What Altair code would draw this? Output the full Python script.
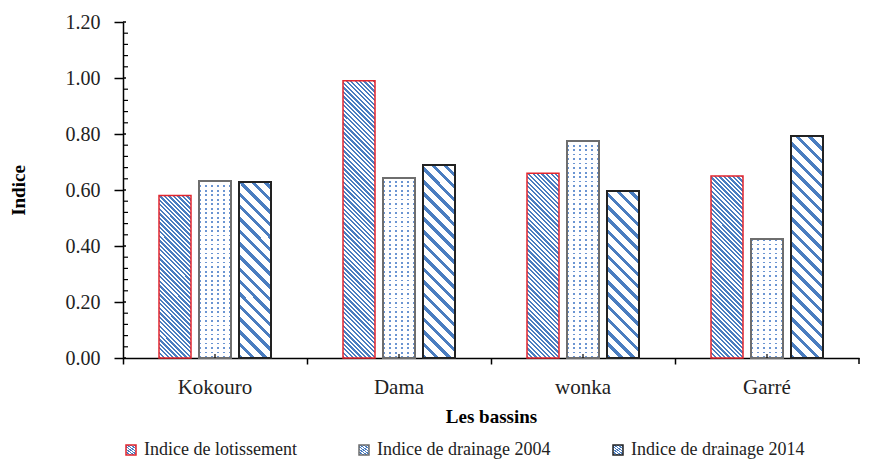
import altair as alt
import pandas as pd

basins = ["Kokouro", "Dama", "wonka", "Garré"]
series = ["Indice de lotissement", "Indice de drainage 2004", "Indice de drainage 2014"]
lotissement = [0.58, 0.99, 0.66, 0.65]
drainage_2004 = [0.632, 0.643, 0.775, 0.425]
drainage_2014 = [0.629, 0.689, 0.596, 0.793]
y_major = [0.0, 0.2, 0.4, 0.6, 0.8, 1.0, 1.2]
y_minor = [0.04, 0.08, 0.12, 0.16, 0.24, 0.28, 0.32, 0.36, 0.44, 0.48, 0.52, 0.56,
           0.64, 0.68, 0.72, 0.76, 0.84, 0.88, 0.92, 0.96, 1.04, 1.08, 1.12, 1.16]

rows = []
for i, b in enumerate(basins):
    for s, vals in zip(series, [lotissement, drainage_2004, drainage_2014]):
        rows.append({"basin": b, "series": s, "value": vals[i]})
df = pd.DataFrame(rows)

PLOT_W, PLOT_H, Y_MAX = 736, 336, 1.2
OFF_PAD_INNER, OFF_PAD_OUTER = 0.2, 0.9
step = PLOT_W / len(basins)
off_step = step / (len(series) - OFF_PAD_INNER + 2 * OFF_PAD_OUTER)
BAR_W = off_step * (1 - OFF_PAD_INNER)

BLUE = "#4a7dc0"
DOT = "#6b95d2"
WHITE = "#ffffff"
CLEAR = "rgba(255,255,255,0)"
FONT = "Liberation Serif"


def stripes(n, frac, on, off):
    stops = []
    i = 0
    while i < n:
        a = round(i / n, 5)
        b = round(min((i + frac) / n, 1.0), 5)
        c = round(min((i + 1) / n, 1.0), 5)
        stops += [{"offset": a, "color": on}, {"offset": b, "color": on},
                  {"offset": b, "color": off}, {"offset": c, "color": off}]
        i += 1
    return stops


def hatch(value, period, frac, color):
    w = BAR_W
    h = value / Y_MAX * PLOT_H
    k = (w + h) / (w * w + h * h)
    return {"gradient": "linear", "x1": 0, "y1": 1,
            "x2": round(k * w, 5), "y2": round(1 - k * h, 5),
            "stops": stripes((w + h) / period, frac, color, WHITE)}


def columns(period, frac):
    return {"gradient": "linear", "x1": 0, "y1": 0, "x2": 1, "y2": 0,
            "stops": stripes(BAR_W / period, frac, DOT, WHITE)}


def rows_mask(value, period, frac):
    h = value / Y_MAX * PLOT_H
    return {"gradient": "linear", "x1": 0, "y1": 1, "x2": 0, "y2": 0,
            "stops": stripes(h / period, frac, CLEAR, WHITE)}


y_scale = alt.Scale(domain=[0, Y_MAX], nice=False)
x_scale = alt.Scale(domain=basins, paddingInner=0, paddingOuter=0)

x_axis = alt.Axis(title="Les bassins", titleFont=FONT, titleFontSize=19, titleFontWeight="bold",
                  titleColor="#000", titlePadding=10, labelFont=FONT, labelFontSize=21,
                  labelColor="#222", labelAngle=0, labelPadding=12, tickSize=6, tickWidth=1.5,
                  tickColor="#000", bandPosition=0, domainColor="#000", domainWidth=1.5, grid=False)
y_axis = alt.Axis(values=y_major, format=".2f", title="Indice", titleFont=FONT, titleFontSize=19,
                  titleFontWeight="bold", titleColor="#000", titlePadding=37, labelFont=FONT,
                  labelFontSize=20, labelColor="#222", labelPadding=14, tickSize=9, tickWidth=1.5,
                  tickColor="#000", domainColor="#000", domainWidth=1.5, grid=False, orient="left")

legend = alt.Legend(title=None, orient="none", legendX=-1, legendY=419, direction="horizontal",
                    symbolType="square", symbolSize=100, symbolStrokeWidth=1.5,
                    labelFont=FONT, labelFontSize=18, labelColor="#222", labelLimit=500,
                    columnPadding=58, labelOffset=4, padding=0)

X = alt.X("basin:N", sort=basins, scale=x_scale, axis=x_axis)
Y = alt.Y("value:Q", scale=y_scale, axis=y_axis)

enc = dict(
    x=X,
    xOffset=alt.XOffset("series:N", sort=series,
                        scale=alt.Scale(domain=series, paddingInner=OFF_PAD_INNER,
                                        paddingOuter=OFF_PAD_OUTER)),
    y=Y,
    stroke=alt.Stroke("series:N", sort=series,
                      scale=alt.Scale(domain=series, range=["#e3262e", "#6e6e6e", "#222222"]),
                      legend=legend),
)

layers = []
for i, b in enumerate(basins):
    for j, s in enumerate(series):
        v = [lotissement, drainage_2004, drainage_2014][j][i]
        base = alt.Chart(df).transform_filter((alt.datum.basin == b) & (alt.datum.series == s))
        if j == 0:
            layers.append(base.mark_bar(fill=hatch(v, 4.5, 0.5, BLUE), strokeWidth=1.5).encode(**enc))
        elif j == 1:
            layers.append(base.mark_bar(fill=columns(6.0, 0.33), strokeWidth=2).encode(**enc))
            layers.append(base.mark_bar(fill=rows_mask(v, 4.5, 0.42), strokeWidth=2).encode(**enc))
        else:
            layers.append(base.mark_bar(fill=hatch(v, 12.5, 0.36, BLUE), strokeWidth=2).encode(**enc))

# minor y ticks inside the axis, and the short inner part of major ticks
minor_df = pd.DataFrame({"value": y_minor})
major_df = pd.DataFrame({"value": y_major})
minor_ticks = alt.Chart(minor_df).mark_rule(color="#000", strokeWidth=1.2).encode(
    y=Y, x=alt.value(0), x2=alt.value(5))
major_inner = alt.Chart(major_df).mark_rule(color="#000", strokeWidth=1.5).encode(
    y=Y, x=alt.value(0), x2=alt.value(3))
# small inner tick at the centre of each category, and the closing tick at the right end
center_ticks = alt.Chart(pd.DataFrame({"basin": basins})).mark_rule(color="#000", strokeWidth=1.2).encode(
    x=alt.X("basin:N", sort=basins, scale=x_scale, axis=x_axis, bandPosition=0.5),
    y=alt.value(PLOT_H), y2=alt.value(PLOT_H - 4))
end_tick = alt.Chart(pd.DataFrame({"basin": [basins[-1]]})).mark_rule(color="#000", strokeWidth=1.5).encode(
    x=alt.X("basin:N", sort=basins, scale=x_scale, axis=x_axis, bandPosition=1),
    y=alt.value(PLOT_H), y2=alt.value(PLOT_H + 6))

chart = alt.layer(*layers, minor_ticks, major_inner, center_ticks, end_tick).properties(
    width=PLOT_W, height=PLOT_H,
    padding={"left": 115, "top": 14, "right": 5, "bottom": 104},
    autosize=alt.AutoSizeParams(type="none"),
    background="white",
).configure_view(stroke=None)

chart.save("out.html", embed_options={"renderer": "svg", "actions": False})
